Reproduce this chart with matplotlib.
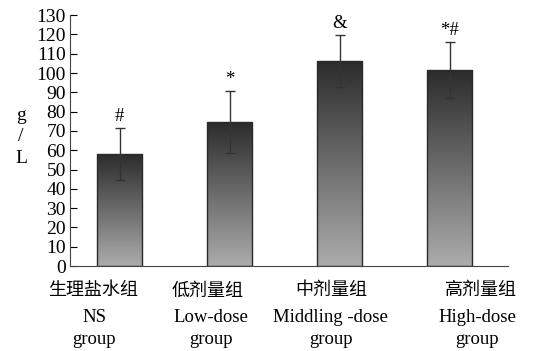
import numpy as np
import matplotlib
matplotlib.use("Agg")
import matplotlib.pyplot as plt
from matplotlib.colors import LinearSegmentedColormap

plt.rcParams['font.family'] = ['Liberation Serif', 'Noto Sans CJK SC']

# data
groups_cn = ["生理盐水组", "低剂量组", "中剂量组", "高剂量组"]
groups_en = ["NS\ngroup", "Low-dose\ngroup", "Middling -dose\ngroup", "High-dose\ngroup"]
means = [58, 74.5, 106, 101.5]
sds = [13.5, 16, 13.5, 14.5]
marks = ["#", "*", "&", "*#"]

label_shift = [-0.24, -0.2, -0.08, 0.29]
en_shift = [-0.23, -0.17, -0.08, 0.25]

fig = plt.figure(figsize=(5.52, 3.51), dpi=100)
ax = fig.add_axes([0.127, 0.242, 0.793, 0.715])

x = np.arange(len(means))
width = 0.41
cmap = LinearSegmentedColormap.from_list("bar", ["#acacac", "#2c2c2c"])
grad = np.linspace(0, 1, 256).reshape(-1, 1)

for xi, m in zip(x, means):
    ax.imshow(grad, cmap=cmap, origin="lower", aspect="auto",
              extent=[xi - width / 2, xi + width / 2, 0, m], zorder=1)
    ax.add_patch(plt.Rectangle((xi - width / 2, 0), width, m, fill=False,
                               edgecolor="#2a2a2a", linewidth=1.0, zorder=2))

ax.errorbar(x, means, yerr=sds, fmt="none", ecolor="#333333",
            elinewidth=1.0, capsize=3.3, capthick=1.0, zorder=3)

for xi, m, s, t in zip(x, means, sds, marks):
    ax.text(xi, m + s + 1.5, t, ha="center", va="bottom", fontsize=13.5)

ax.set_xlim(-0.45, 3.53)
ax.set_ylim(0, 130)
ax.set_yticks(np.arange(0, 131, 10))
ax.tick_params(axis="y", direction="in", length=5, labelsize=14, pad=3)
ax.set_xticks([])
for side in ["top", "right"]:
    ax.spines[side].set_visible(False)
ax.spines["left"].set_color("#444444")
ax.spines["bottom"].set_color("#444444")

for xi, s, e, cn, en in zip(x, label_shift, en_shift, groups_cn, groups_en):
    ax.text(xi + s, -8.5, cn, ha="center", va="top", fontsize=13)
    ax.text(xi + e, -22.5, en, ha="center", va="top", fontsize=13.5, linespacing=1.35)

fig.text(0.038, 0.61, "g\n/\nL", ha="center", va="center", fontsize=14, linespacing=1.35)

fig.savefig("out.png", dpi=100, facecolor="white")
